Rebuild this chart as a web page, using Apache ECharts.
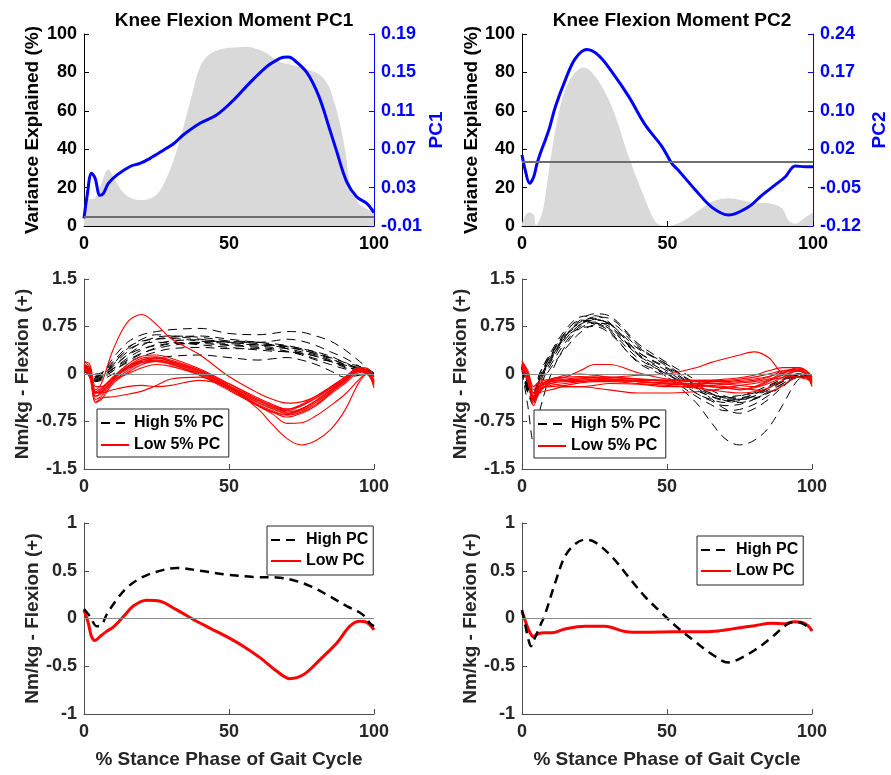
<!DOCTYPE html>
<html>
<head>
<meta charset="utf-8">
<script src="https://cdn.jsdelivr.net/npm/echarts@6/dist/echarts.min.js"></script>
<style>
  html, body { margin: 0; padding: 0; background: #fff; }
  #chart { width: 891px; height: 775px; }
</style>
</head>
<body>
<div id="chart"></div>
<script>
// ---------- Titles and axis labels ----------
const TITLES = ['Knee Flexion Moment PC1', 'Knee Flexion Moment PC2'];
const PC_NAMES = ['PC1', 'PC2'];
const VAR_NAME = 'Variance Explained (%)';
const MOMENT_NAME = 'Nm/kg - Flexion (+)';
const X_NAME = '% Stance Phase of Gait Cycle';
const LEG_MID = ['High 5% PC', 'Low 5% PC'];
const LEG_BOT = ['High PC', 'Low PC'];

// ---------- Top row: variance explained (%) and PC loading ----------
const VAR1_X = [0,1.5,3,4.5,6,8.4,10,12.4,15,19.3,23,26,29.6,32,34,37,40,43,47,52,56,60,63,67,70,74,78,81,84,86,88,90,91.7,94,96,98.6,100];
const VAR1_Y = [3,14,14,16,22,29.5,26,19.6,15.5,13.5,14.5,18,29,39.6,50,67,83,89,92,93,93.4,92,90,86,84.5,83,81,79,74,66,55,40,22,13.5,10,8.3,7];
const PC1_X = [0,1,2.6,3.8,5.5,6.7,8.4,11.3,15.9,19.3,22.8,27.4,31,34.2,40,45.7,51.5,57,63,66,68.7,70.5,72,76.8,81,84.8,87,90.6,94,97.5,100];
const PC1_Y = [-0.002,0.02,0.045,0.04,0.022,0.024,0.0345,0.043,0.052,0.0553,0.0605,0.069,0.076,0.0848,0.097,0.1056,0.121,0.1386,0.156,0.162,0.1657,0.166,0.164,0.15,0.125,0.09,0.069,0.036,0.0205,0.0136,0.004];

const VAR2_X = [0,1,2.3,4,4.8,6.9,8.6,10.3,13.7,17.2,21.2,25.2,30.9,36.7,42.4,45.8,48,50,55,61.8,65.3,71,79,84.7,89.3,91.6,93.9,97.4,100];
const VAR2_Y = [1.4,5,7,6,0.5,6.6,22,39.6,65.6,77.8,82.5,77.8,62,36,13.5,2.3,0.3,0,2.3,9.2,12.7,14.4,12.3,11.8,9.2,3,1.2,4.6,7];
const PC2_X = [0,1.1,2.6,4,5.2,6.7,8,9.5,11.5,14.9,18.3,22.3,26.3,30.9,36.7,42.4,48.1,51.4,53.8,59.6,65.3,71,77.9,82.5,87,90.5,93.9,97.4,100];
const PC2_Y = [0.013,-0.015,-0.04,-0.028,-0.002,0.0225,0.041,0.065,0.104,0.154,0.194,0.211,0.2,0.169,0.1225,0.069,0.029,-0.002,-0.016,-0.0525,-0.085,-0.0994,-0.084,-0.062,-0.043,-0.0276,-0.0075,-0.009,-0.009];

// ---------- Middle row: individual waveforms (Nm/kg) ----------
const X_MID = [0,2,4,6,10,15,20,25,30,40,50,60,65,70,75,80,85,90,95,98,100];

const MID1_HIGH = [
  [0.12,0.08,-0.02,0.0,0.25,0.5,0.62,0.67,0.7,0.72,0.64,0.62,0.64,0.67,0.66,0.6,0.52,0.38,0.2,0.08,0.02],
  [0.1,0.05,-0.08,-0.05,0.15,0.4,0.55,0.62,0.6,0.55,0.5,0.5,0.52,0.55,0.52,0.45,0.35,0.25,0.12,0.05,0.0],
  [0.08,0.02,-0.1,-0.06,0.1,0.3,0.45,0.55,0.58,0.6,0.55,0.5,0.48,0.45,0.4,0.35,0.28,0.18,0.08,0.05,0.0],
  [0.1,0.05,-0.05,0.0,0.2,0.42,0.52,0.55,0.56,0.52,0.48,0.46,0.44,0.42,0.38,0.32,0.24,0.15,0.08,0.04,0.0],
  [0.05,0.0,-0.12,-0.08,0.05,0.2,0.32,0.42,0.48,0.5,0.46,0.44,0.42,0.4,0.35,0.3,0.22,0.12,0.05,0.02,-0.02],
  [0.12,0.06,-0.05,-0.02,0.12,0.3,0.4,0.45,0.48,0.48,0.45,0.42,0.4,0.36,0.3,0.22,0.15,0.08,0.04,0.02,-0.02],
  [0.1,0.04,-0.1,-0.08,0.05,0.18,0.28,0.35,0.4,0.42,0.4,0.4,0.38,0.35,0.32,0.28,0.2,0.1,0.03,0.0,-0.04],
  [0.08,0.02,-0.12,-0.1,0.0,0.1,0.2,0.25,0.28,0.3,0.26,0.22,0.24,0.26,0.22,0.15,0.05,-0.05,-0.02,0.0,-0.03],
  [0.15,0.1,0.0,0.02,0.15,0.35,0.5,0.58,0.6,0.58,0.52,0.48,0.46,0.44,0.4,0.34,0.25,0.15,0.1,0.05,0.0],
  [0.1,0.05,-0.06,-0.04,0.08,0.25,0.38,0.47,0.52,0.54,0.5,0.46,0.45,0.43,0.38,0.32,0.26,0.18,0.12,0.06,0.0],
  [0.12,0.06,-0.04,0.0,0.18,0.38,0.48,0.5,0.5,0.46,0.42,0.38,0.36,0.35,0.33,0.28,0.2,0.12,0.06,0.03,-0.02],
  [0.08,0.04,-0.08,-0.06,0.08,0.22,0.33,0.4,0.45,0.5,0.52,0.5,0.46,0.4,0.32,0.24,0.2,0.14,0.08,0.04,0.0]
];
const MID1_LOW = [
  [0.1,0.0,-0.25,-0.15,0.38,0.82,0.94,0.78,0.56,0.3,-0.04,-0.3,-0.4,-0.46,-0.44,-0.35,-0.22,-0.08,0.1,0.02,-0.1],
  [0.2,0.1,-0.3,-0.25,-0.05,0.15,0.28,0.3,0.25,0.08,-0.15,-0.38,-0.48,-0.55,-0.5,-0.38,-0.22,-0.05,0.1,0.05,-0.05],
  [0.15,0.05,-0.35,-0.3,-0.1,0.1,0.22,0.25,0.2,0.05,-0.18,-0.42,-0.52,-0.6,-0.55,-0.42,-0.25,-0.08,0.08,0.0,-0.1],
  [0.1,0.0,-0.4,-0.35,-0.12,0.05,0.18,0.22,0.18,0.02,-0.2,-0.45,-0.55,-0.62,-0.58,-0.45,-0.28,-0.1,0.05,0.0,-0.12],
  [0.05,-0.05,-0.45,-0.4,-0.15,0.02,0.15,0.2,0.15,0.0,-0.22,-0.48,-0.58,-0.65,-0.6,-0.48,-0.3,-0.12,0.04,-0.02,-0.15],
  [0.2,0.15,-0.2,-0.2,-0.05,0.12,0.25,0.27,0.22,0.06,-0.16,-0.4,-0.5,-0.56,-0.48,-0.35,-0.2,-0.05,0.1,0.08,-0.05],
  [0.12,0.02,-0.3,-0.28,-0.1,0.0,0.1,0.15,0.12,-0.02,-0.24,-0.5,-0.6,-0.68,-0.62,-0.5,-0.32,-0.15,0.02,0.0,-0.18],
  [0.1,0.0,-0.3,-0.3,-0.25,-0.2,-0.18,-0.2,-0.18,-0.1,-0.2,-0.42,-0.52,-0.58,-0.5,-0.38,-0.22,-0.08,0.06,0.02,-0.1],
  [0.08,-0.05,-0.45,-0.38,-0.36,-0.32,-0.27,-0.18,-0.08,-0.05,-0.22,-0.45,-0.55,-0.62,-0.56,-0.42,-0.26,-0.1,0.05,0.0,-0.12],
  [0.15,0.05,-0.3,-0.25,-0.05,0.12,0.22,0.25,0.2,0.04,-0.2,-0.5,-0.63,-0.78,-0.77,-0.66,-0.5,-0.32,-0.08,0.02,-0.12],
  [0.1,0.0,-0.35,-0.3,-0.08,0.1,0.2,0.22,0.18,0.02,-0.2,-0.55,-0.8,-1.02,-1.12,-1.05,-0.88,-0.57,-0.12,0.0,-0.15],
  [0.05,-0.05,-0.28,-0.22,-0.06,0.08,0.18,0.2,0.16,-0.02,-0.26,-0.5,-0.6,-0.64,-0.55,-0.42,-0.26,-0.12,0.08,0.0,-0.22]
];

const MID2_HIGH = [
  [0.1,-0.3,-0.4,-0.1,0.25,0.6,0.82,0.88,0.78,0.32,0.05,-0.25,-0.35,-0.42,-0.4,-0.32,-0.2,-0.08,0.0,-0.02,-0.08],
  [0.12,-0.2,-0.3,0.0,0.35,0.7,0.9,0.92,0.82,0.35,0.1,-0.2,-0.3,-0.38,-0.4,-0.35,-0.25,-0.12,-0.02,-0.02,-0.1],
  [0.05,-0.5,-1.08,-0.6,0.0,0.45,0.72,0.8,0.72,0.3,0.02,-0.3,-0.4,-0.45,-0.42,-0.35,-0.22,-0.1,-0.02,-0.05,-0.1],
  [0.1,-0.25,-0.45,-0.2,0.15,0.5,0.75,0.82,0.75,0.3,-0.05,-0.45,-0.75,-1.02,-1.12,-1.05,-0.85,-0.48,-0.1,-0.05,-0.1],
  [0.15,-0.15,-0.3,-0.05,0.3,0.62,0.8,0.85,0.8,0.4,0.15,-0.2,-0.38,-0.55,-0.62,-0.55,-0.4,-0.2,-0.05,-0.05,-0.1],
  [0.08,-0.3,-0.45,-0.15,0.2,0.55,0.78,0.9,0.88,0.45,0.12,-0.15,-0.3,-0.42,-0.45,-0.4,-0.3,-0.15,-0.02,0.0,-0.05],
  [0.1,-0.2,-0.35,-0.1,0.25,0.58,0.72,0.75,0.65,0.2,0.0,-0.25,-0.35,-0.4,-0.38,-0.32,-0.22,-0.1,0.0,-0.02,-0.08],
  [0.12,-0.25,-0.4,-0.12,0.22,0.6,0.85,0.95,0.92,0.48,0.18,-0.1,-0.25,-0.35,-0.4,-0.38,-0.3,-0.18,-0.05,-0.02,-0.06],
  [0.1,-0.18,-0.32,-0.05,0.3,0.65,0.85,0.82,0.7,0.25,0.0,-0.3,-0.42,-0.5,-0.48,-0.4,-0.28,-0.15,-0.05,-0.05,-0.1],
  [0.08,-0.28,-0.5,-0.2,0.1,0.4,0.65,0.78,0.8,0.42,0.15,-0.18,-0.3,-0.38,-0.35,-0.28,-0.18,-0.08,0.0,-0.02,-0.06],
  [0.1,-0.22,-0.38,-0.1,0.28,0.6,0.78,0.86,0.8,0.35,0.08,-0.22,-0.32,-0.36,-0.34,-0.3,-0.22,-0.12,-0.03,-0.03,-0.08],
  [0.14,-0.15,-0.28,0.0,0.32,0.66,0.84,0.8,0.68,0.18,-0.05,-0.35,-0.48,-0.58,-0.56,-0.48,-0.34,-0.18,-0.05,-0.04,-0.1]
];
const MID2_LOW = [
  [0.15,-0.1,-0.45,-0.25,-0.1,-0.05,0.05,0.15,0.15,0.02,-0.08,-0.1,-0.1,-0.1,-0.08,-0.05,0.0,0.05,0.05,0.0,-0.1],
  [0.1,-0.05,-0.35,-0.2,-0.1,-0.1,-0.1,-0.08,-0.06,-0.02,0.0,0.1,0.18,0.24,0.3,0.35,0.26,0.0,-0.05,-0.08,-0.12],
  [0.2,0.0,-0.4,-0.3,-0.25,-0.2,-0.2,-0.22,-0.25,-0.3,-0.3,-0.28,-0.26,-0.22,-0.18,-0.15,-0.1,-0.05,0.0,-0.05,-0.15],
  [0.1,-0.1,-0.5,-0.3,-0.12,-0.1,-0.08,-0.08,-0.1,-0.12,-0.15,-0.18,-0.2,-0.22,-0.24,-0.22,-0.15,-0.05,0.05,0.0,-0.15],
  [0.05,-0.12,-0.45,-0.28,-0.15,-0.12,-0.12,-0.1,-0.1,-0.12,-0.14,-0.16,-0.18,-0.2,-0.22,-0.25,-0.28,-0.18,-0.05,-0.05,-0.2],
  [0.15,0.0,-0.3,-0.2,-0.08,-0.05,-0.04,-0.05,-0.08,-0.1,-0.1,-0.1,-0.1,-0.08,-0.06,-0.02,0.05,0.1,0.1,0.05,-0.05],
  [0.12,-0.05,-0.38,-0.22,-0.2,-0.18,-0.14,-0.12,-0.12,-0.15,-0.18,-0.22,-0.25,-0.28,-0.3,-0.28,-0.22,-0.1,0.0,-0.05,-0.12],
  [0.18,0.02,-0.25,-0.15,-0.12,-0.08,-0.06,-0.05,-0.05,-0.08,-0.12,-0.15,-0.15,-0.14,-0.12,-0.1,-0.05,0.05,0.08,0.02,-0.08],
  [0.1,-0.08,-0.42,-0.25,-0.18,-0.15,-0.12,-0.1,-0.08,-0.08,-0.1,-0.12,-0.14,-0.16,-0.18,-0.2,-0.12,0.0,0.1,0.05,-0.1],
  [0.08,-0.1,-0.35,-0.2,-0.15,-0.2,-0.2,-0.18,-0.15,-0.16,-0.2,-0.2,-0.18,-0.16,-0.14,-0.12,-0.08,-0.02,0.05,0.0,-0.18],
  [0.2,0.05,-0.2,-0.12,-0.08,-0.02,0.0,-0.02,-0.05,-0.08,-0.1,-0.12,-0.12,-0.12,-0.1,-0.08,-0.04,0.02,0.08,0.05,-0.05],
  [0.1,-0.05,-0.3,-0.18,-0.1,-0.1,-0.08,-0.06,-0.08,-0.12,-0.16,-0.18,-0.2,-0.22,-0.25,-0.2,-0.1,0.02,0.06,0.0,-0.12]
];

// ---------- Bottom row: reconstructed high / low PC waveforms ----------
const BL_HIGH_X = [0,2.1,4.4,6.1,7.8,11.3,14.7,19.3,25.1,32,40,49.2,58.4,66.4,72.2,78,83.7,90.6,95.2,97.5,98.6,100];
const BL_HIGH_Y = [0.1,0.02,-0.08,-0.065,0.04,0.2,0.32,0.42,0.49,0.53,0.5,0.46,0.435,0.43,0.4,0.34,0.25,0.13,0.06,0,-0.05,-0.08];
const BL_LOW_X = [0,1.5,2.6,3.8,5.5,7.8,10.1,13.6,17,21.6,26.2,32,37.7,43.4,49.2,54.9,60.7,66.4,71,75.6,81.4,87.1,91.7,95.2,97.5,100];
const BL_LOW_Y = [0.09,-0.05,-0.19,-0.23,-0.19,-0.135,-0.09,0.02,0.13,0.19,0.18,0.09,-0.01,-0.1,-0.19,-0.29,-0.41,-0.55,-0.63,-0.59,-0.43,-0.26,-0.08,-0.03,-0.04,-0.12];

const BR_HIGH_X = [0,1,2.2,3.1,4.2,6.2,7.9,11.4,14.8,18.3,21.7,25.1,30.9,36.6,42.4,48.1,53.8,59.6,65.3,71.1,74.5,80.3,86,90.6,92.9,95.2,100];
const BR_HIGH_Y = [0.09,-0.05,-0.22,-0.29,-0.22,-0.08,0.04,0.37,0.65,0.78,0.825,0.8,0.65,0.44,0.23,0.06,-0.1,-0.24,-0.37,-0.46,-0.43,-0.33,-0.2,-0.08,-0.04,-0.04,-0.12];
const BR_LOW_X = [0,1.6,2.8,3.9,5.6,7.9,10.2,14.8,21.7,28.6,35.5,42.4,51.5,60.7,67.6,74.5,80.3,86,90.6,94,96.3,98.6,100];
const BR_LOW_Y = [0.075,-0.065,-0.15,-0.19,-0.16,-0.15,-0.15,-0.11,-0.08,-0.08,-0.135,-0.145,-0.14,-0.14,-0.13,-0.1,-0.075,-0.05,-0.055,-0.035,-0.04,-0.075,-0.13];

// ---------- Styling helpers ----------
const FONT = "'Liberation Sans', Arial, Helvetica, sans-serif";
const INK = '#000000';
const INK2 = '#262626';
const AXIS2 = '#4d4d4d';
const BLUE = '#0000ff';
const RED = '#ff0000';

const pts = (xs, ys) => xs.map((x, i) => [x, ys[i]]);

function xAxis(gridIndex, color, withName) {
  return {
    type: 'value', gridIndex, min: 0, max: 100, interval: 50,
    axisLine: { show: true, onZero: false, lineStyle: { color: color, width: 1 } },
    axisTick: { show: true, inside: true, length: 5, lineStyle: { color: color } },
    axisLabel: { color: color === INK ? INK : INK2, fontFamily: FONT, fontWeight: 'bold', fontSize: 18, margin: 9 },
    splitLine: { show: false },
    name: withName ? X_NAME : '',
    nameLocation: 'middle', nameGap: 36,
    nameTextStyle: { color: INK2, fontFamily: FONT, fontWeight: 'bold', fontSize: 19 }
  };
}

function yAxis(gridIndex, opts) {
  return {
    type: 'value', gridIndex,
    position: opts.position || 'left',
    min: opts.min, max: opts.max, interval: opts.interval,
    axisLine: { show: true, onZero: false, lineStyle: { color: opts.color, width: 1 } },
    axisTick: { show: true, inside: true, length: 5, lineStyle: { color: opts.color } },
    axisLabel: {
      color: opts.textColor, fontFamily: FONT, fontWeight: 'bold', fontSize: 18, margin: 7,
      formatter: opts.formatter
    },
    splitLine: { show: false },
    name: opts.name, nameLocation: 'middle', nameGap: opts.nameGap, nameRotate: 90,
    nameTextStyle: { color: opts.textColor, fontFamily: FONT, fontWeight: 'bold', fontSize: 19 }
  };
}

const fix2 = v => v.toFixed(2);

const zeroLine = (color, width) => ({
  silent: true, symbol: 'none', label: { show: false },
  lineStyle: { color: color, width: width, type: 'solid' },
  emphasis: { disabled: true },
  data: [{ yAxis: 0 }]
});

function areaSeries(xi, yi, xs, ys) {
  return {
    type: 'line', xAxisIndex: xi, yAxisIndex: yi, data: pts(xs, ys),
    smooth: 0.35, symbol: 'none', z: 1, silent: true,
    lineStyle: { width: 0, color: '#d9d9d9' },
    areaStyle: { color: '#d9d9d9', opacity: 1 }
  };
}

function pcSeries(xi, yi, xs, ys) {
  return {
    type: 'line', xAxisIndex: xi, yAxisIndex: yi, data: pts(xs, ys),
    smooth: 0.35, symbol: 'none', z: 3,
    lineStyle: { color: BLUE, width: 3 },
    markLine: zeroLine('#6e6e6e', 2)
  };
}

function waveSeries(name, xi, yi, xs, ys, style) {
  return {
    type: 'line', name, xAxisIndex: xi, yAxisIndex: yi, data: pts(xs, ys),
    smooth: 0.35, symbol: 'none', z: style.z,
    itemStyle: { color: style.color },
    lineStyle: { color: style.color, width: style.width, type: style.type }
  };
}

const series = [];
// Top row
series.push(areaSeries(0, 0, VAR1_X, VAR1_Y));
series.push(pcSeries(0, 1, PC1_X, PC1_Y));
series.push(areaSeries(1, 2, VAR2_X, VAR2_Y));
series.push(pcSeries(1, 3, PC2_X, PC2_Y));

// Middle row
const dashMid = { color: '#000000', width: 1, type: [9, 6], z: 2 };
const solidMid = { color: RED, width: 1.1, type: 'solid', z: 3 };
[[MID1_HIGH, MID1_LOW, 2, 4], [MID2_HIGH, MID2_LOW, 3, 5]].forEach(([hi, lo, xi, yi]) => {
  hi.forEach((ys, k) => {
    const s = waveSeries(LEG_MID[0], xi, yi, X_MID, ys, dashMid);
    if (k === 0) s.markLine = zeroLine('#8c8c8c', 1.2);
    series.push(s);
  });
  lo.forEach(ys => series.push(waveSeries(LEG_MID[1], xi, yi, X_MID, ys, solidMid)));
});

// Bottom row
const dashBot = { color: '#000000', width: 2.5, type: [9, 6], z: 3 };
const solidBot = { color: RED, width: 3, type: 'solid', z: 2 };
const bl = waveSeries(LEG_BOT[0], 4, 6, BL_HIGH_X, BL_HIGH_Y, dashBot);
bl.markLine = zeroLine('#8c8c8c', 1.2);
series.push(bl);
series.push(waveSeries(LEG_BOT[1], 4, 6, BL_LOW_X, BL_LOW_Y, solidBot));
const br = waveSeries(LEG_BOT[0], 5, 7, BR_HIGH_X, BR_HIGH_Y, dashBot);
br.markLine = zeroLine('#8c8c8c', 1.2);
series.push(br);
series.push(waveSeries(LEG_BOT[1], 5, 7, BR_LOW_X, BR_LOW_Y, solidBot));

// Legend boxes: line samples only (the point marker is hidden)
function legend(names, left, top, iconW, gap, padding) {
  return {
    data: names, orient: 'vertical', left, top,
    itemWidth: iconW, itemHeight: 12, itemGap: gap, padding,
    itemStyle: { opacity: 0 },
    borderColor: INK2, borderWidth: 1, borderRadius: 0, backgroundColor: '#ffffff',
    selectedMode: false,
    textStyle: { color: INK, fontFamily: FONT, fontWeight: 'bold', fontSize: 16 }
  };
}

const option = {
  animation: false,
  backgroundColor: '#ffffff',
  title: [
    { text: TITLES[0], left: 229, top: 6, textAlign: 'center',
      textStyle: { color: INK, fontFamily: FONT, fontWeight: 'bold', fontSize: 19 } },
    { text: TITLES[1], left: 667, top: 6, textAlign: 'center',
      textStyle: { color: INK, fontFamily: FONT, fontWeight: 'bold', fontSize: 19 } }
  ],
  grid: [
    { left: 84, top: 34, width: 290, height: 192, outerBoundsMode: 'none' },
    { left: 522, top: 34, width: 291, height: 192, outerBoundsMode: 'none' },
    { left: 84, top: 279, width: 290, height: 190, outerBoundsMode: 'none' },
    { left: 522, top: 279, width: 290, height: 190, outerBoundsMode: 'none' },
    { left: 84, top: 523, width: 290, height: 191, outerBoundsMode: 'none' },
    { left: 522, top: 523, width: 290, height: 191, outerBoundsMode: 'none' }
  ],
  xAxis: [
    xAxis(0, INK, false), xAxis(1, INK, false),
    xAxis(2, AXIS2, false), xAxis(3, AXIS2, false),
    xAxis(4, AXIS2, true), xAxis(5, AXIS2, true)
  ],
  yAxis: [
    yAxis(0, { min: 0, max: 100, interval: 20, color: INK, textColor: INK, name: VAR_NAME, nameGap: 42 }),
    yAxis(0, { position: 'right', min: -0.01, max: 0.19, interval: 0.04, color: BLUE, textColor: BLUE,
               name: PC_NAMES[0], nameGap: 53, formatter: fix2 }),
    yAxis(1, { min: 0, max: 100, interval: 20, color: INK, textColor: INK, name: VAR_NAME, nameGap: 41 }),
    yAxis(1, { position: 'right', min: -0.12, max: 0.24, interval: 0.072, color: BLUE, textColor: BLUE,
               name: PC_NAMES[1], nameGap: 57, formatter: fix2 }),
    yAxis(2, { min: -1.5, max: 1.5, interval: 0.75, color: AXIS2, textColor: INK2, name: MOMENT_NAME, nameGap: 52 }),
    yAxis(3, { min: -1.5, max: 1.5, interval: 0.75, color: AXIS2, textColor: INK2, name: MOMENT_NAME, nameGap: 52 }),
    yAxis(4, { min: -1, max: 1, interval: 0.5, color: AXIS2, textColor: INK2, name: MOMENT_NAME, nameGap: 41 }),
    yAxis(5, { min: -1, max: 1, interval: 0.5, color: AXIS2, textColor: INK2, name: MOMENT_NAME, nameGap: 41 })
  ],
  legend: [
    legend(LEG_MID, 97, 409, 28, 6, [6, 5, 4, 3]),
    legend(LEG_MID, 534, 410, 28, 6, [6, 5, 4, 3]),
    legend(LEG_BOT, 267, 526, 30, 5, [6, 5, 6, 3]),
    legend(LEG_BOT, 697, 536, 30, 5, [6, 5, 6, 3])
  ],
  series
};

const chart = echarts.init(document.getElementById('chart'), null, { renderer: 'canvas' });
chart.setOption(option);
</script>
</body>
</html>
